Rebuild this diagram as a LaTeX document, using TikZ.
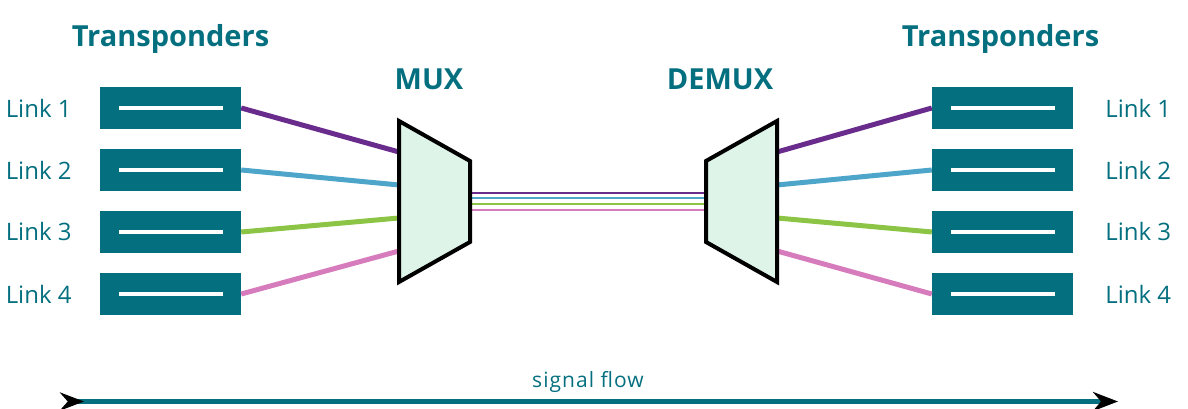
\documentclass[tikz,border=0pt]{standalone}
\usepackage{fontspec}
\setmainfont{Open Sans}
\usetikzlibrary{arrows.meta,positioning}
\definecolor{tpteal}{HTML}{046F7F}
\definecolor{muxfill}{HTML}{DFF4E8}
\definecolor{fpurple}{HTML}{6A2C8C}
\definecolor{fblue}{HTML}{4DA5C9}
\definecolor{fgreen}{HTML}{8CC545}
\definecolor{fpink}{HTML}{D67BBC}
\begin{document}
\begin{tikzpicture}[x=1pt,y=1pt,node distance=62pt,
  tbox/.style={fill=tpteal,minimum width=141pt,minimum height=42pt,inner sep=0pt,
    path picture={\fill[white] ([xshift=-52pt,yshift=-2pt]path picture bounding box.center)
      rectangle ([xshift=52pt,yshift=2pt]path picture bounding box.center);}},
  lbl/.style={text=tpteal,inner sep=0pt,font=\fontsize{24}{24}\selectfont},
  head/.style={text=tpteal,inner sep=0pt,anchor=base,font=\bfseries\fontsize{29}{29}\selectfont},
  fiber/.style={line width=5pt},
  thin/.style={line width=2pt},
  mux/.style={draw=black,fill=muxfill,line width=4pt,line join=miter}]
  \useasboundingbox (0,0) rectangle (1188,409);

  \node(tl1) [tbox] at (170.5,301) {};
  \node[below of=tl1](tl2) [tbox] {};
  \node[below of=tl2](tl3) [tbox] {};
  \node[below of=tl3](tl4) [tbox] {};
  \node(tr1) [tbox] at (1002.5,301) {};
  \node[below of=tr1](tr2) [tbox] {};
  \node[below of=tr2](tr3) [tbox] {};
  \node[below of=tr3](tr4) [tbox] {};

  \node[lbl,left=28pt of tl1]  (ll1) {Link 1};
  \node[lbl,left=28pt of tl2]  (ll2) {Link 2};
  \node[lbl,left=28pt of tl3]  (ll3) {Link 3};
  \node[lbl,left=28pt of tl4]  (ll4) {Link 4};
  \node[lbl,right=32pt of tr1] (lr1) {Link 1};
  \node[lbl,right=32pt of tr2] (lr2) {Link 2};
  \node[lbl,right=32pt of tr3] (lr3) {Link 3};
  \node[lbl,right=32pt of tr4] (lr4) {Link 4};

  \node[head] (hl)  at (170.5,362) {Transponders};
  \node[head] (hr)  at (1000.5,362) {Transponders};
  \node[head] (hm)  at (429,319) {MUX};
  \node[head] (hd)  at (720,319) {DEMUX};

  \coordinate (m1) at (399,257); \coordinate (m2) at (399,224);
  \coordinate (m3) at (399,191); \coordinate (m4) at (399,158);
  \coordinate (d1) at (777,257); \coordinate (d2) at (777,224);
  \coordinate (d3) at (777,191); \coordinate (d4) at (777,158);

  \draw[fiber,fpurple] (tl1.east) -- (m1);
  \draw[fiber,fblue]   (tl2.east) -- (m2);
  \draw[fiber,fgreen]  (tl3.east) -- (m3);
  \draw[fiber,fpink]   (tl4.east) -- (m4);
  \draw[fiber,fpurple] (d1) -- (tr1.west);
  \draw[fiber,fblue]   (d2) -- (tr2.west);
  \draw[fiber,fgreen]  (d3) -- (tr3.west);
  \draw[fiber,fpink]   (d4) -- (tr4.west);

  \coordinate (mo1) at (470,216.3); \coordinate (di1) at (706,216.3);
  \coordinate (mo2) at (470,210.7); \coordinate (di2) at (706,210.7);
  \coordinate (mo3) at (470,204.7); \coordinate (di3) at (706,204.7);
  \coordinate (mo4) at (470,199);   \coordinate (di4) at (706,199);
  \draw[thin,fpurple] (mo1) -- (di1);
  \draw[thin,fblue]   (mo2) -- (di2);
  \draw[thin,fgreen]  (mo3) -- (di3);
  \draw[thin,fpink]   (mo4) -- (di4);

  \draw[mux] (399,288) -- (470,248) -- (470,167) -- (399,127) -- cycle;
  \draw[mux] (706,248) -- (777,288) -- (777,127) -- (706,167) -- cycle;

  \coordinate (fs) at (60,7.5);
  \coordinate (fe) at (1118,7.5);
  \draw[tpteal,line width=4.5pt,{Stealth[black,reversed,length=24pt,width=18pt]}-{Stealth[black,length=25pt,width=19pt]}]
    (fs) -- (fe);
  \node[text=tpteal,inner sep=0pt,anchor=base,font=\addfontfeatures{LetterSpace=5}\fontsize{21}{21}\selectfont] (sf) at (588,21) {signal flow};
\end{tikzpicture}
\end{document}
